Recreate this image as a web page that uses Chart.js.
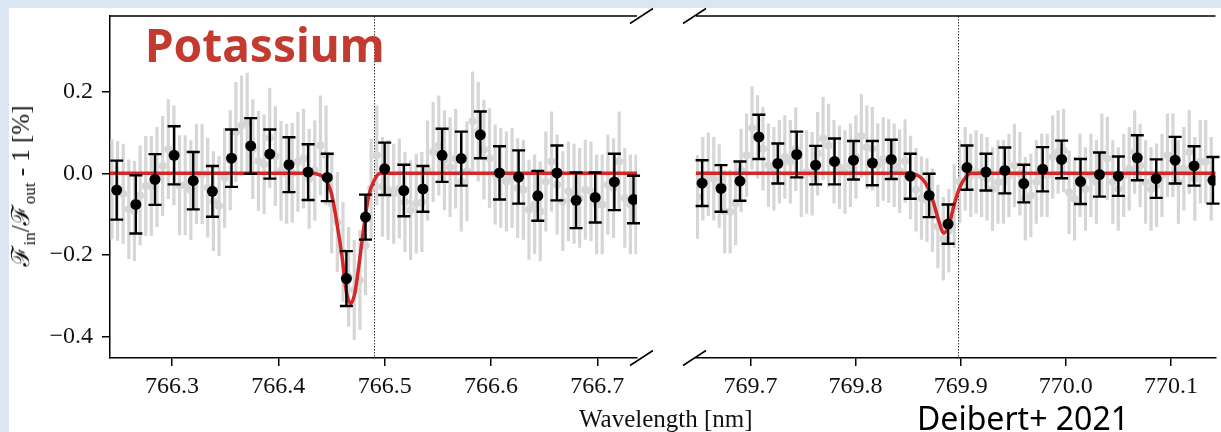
<!DOCTYPE html>
<html lang="en">
<head>
  <meta charset="UTF-8">
  <title>Potassium transmission spectrum</title>
  <script src="https://cdn.jsdelivr.net/npm/chart.js"></script>
  <style>
    body {
      margin: 0;
      width: 1221px;
      height: 432px;
      overflow: hidden;
      background: #dce6f2;
      position: relative;
    }
    #panel {
      position: absolute;
      left: 9px; top: 8px; right: 0; bottom: 0;
      background: #fff;
    }
    canvas { position: absolute; top: 0; }
    #left { left: 0; }
    #right { left: 668px; }
    .txt { position: absolute; white-space: nowrap; }
    #potassium {
      left: 145px; top: 21px;
      font: bold 46px/46px "Noto Sans", sans-serif;
      color: #c33b30;
    }
    #deibert {
      left: 917px; top: 402px;
      font: 32px/32px "Noto Sans", sans-serif;
      color: #000;
    }
    #xlabel {
      left: 579px; top: 406px;
      font: 25px/25px "Liberation Serif", serif;
      color: #111;
    }
    #ylabel {
      left: 25px; top: 186px;
      transform: translate(-50%, -50%) rotate(-90deg);
      font: 25px/25px "Liberation Serif", "DejaVu Serif", serif;
      color: #111;
    }
    #ylabel sub { font-size: 17px; }
  </style>
</head>
<body>
  <div id="panel"></div>
  <canvas id="left" width="668" height="432"></canvas>
  <canvas id="right" width="553" height="432"></canvas>
  <div class="txt" id="ylabel">ℱ<sub>in</sub>/ℱ<sub>out</sub> - 1 [%]</div>
  <div class="txt" id="xlabel">Wavelength [nm]</div>
  <div class="txt" id="potassium">Potassium</div>
  <div class="txt" id="deibert">Deibert+ 2021</div>

  <script>
    // axis ticks
    const yTicks = [-0.4, -0.2, 0, 0.2];
    const yTickLabels = ["−0.4", "−0.2", "0.0", "0.2"];
    const xLeftTicks = [766.3, 766.4, 766.5, 766.6, 766.7];
    const xLeftTickLabels = ["766.3", "766.4", "766.5", "766.6", "766.7"];
    const xRightTicks = [769.7, 769.8, 769.9, 770.0, 770.1];
    const xRightTickLabels = ["769.7", "769.8", "769.9", "770.0", "770.1"];

    // line centres (dotted)
    const lineLeft = 766.490;
    const lineRight = 769.897;

    // binned points, left window (D2)
    const binLeftX = [766.248, 766.266, 766.284, 766.302, 766.320, 766.338, 766.356, 766.374, 766.392, 766.410,
      766.428, 766.446, 766.464, 766.482, 766.500, 766.518, 766.536, 766.554, 766.572, 766.590,
      766.608, 766.626, 766.644, 766.662, 766.680, 766.698, 766.716, 766.734];
    const binLeftY = [-0.041, -0.076, -0.015, 0.044, -0.018, -0.044, 0.037, 0.067, 0.047, 0.021,
      0.003, -0.010, -0.257, -0.107, 0.011, -0.042, -0.038, 0.044, 0.036, 0.094,
      0.001, -0.009, -0.055, 0.001, -0.066, -0.059, -0.021, -0.064];
    const binLeftErr = [0.072, 0.071, 0.062, 0.071, 0.070, 0.062, 0.070, 0.068, 0.060, 0.067,
      0.068, 0.058, 0.067, 0.055, 0.064, 0.063, 0.056, 0.065, 0.066, 0.057,
      0.065, 0.065, 0.061, 0.067, 0.068, 0.061, 0.069, 0.058];

    // binned points, right window (D1)
    const binRightX = [769.654, 769.672, 769.690, 769.708, 769.726, 769.744, 769.762, 769.780, 769.798, 769.816,
      769.834, 769.852, 769.870, 769.888, 769.906, 769.924, 769.942, 769.960, 769.978, 769.996,
      770.014, 770.032, 770.050, 770.068, 770.086, 770.104, 770.122, 770.140];
    const binRightY = [-0.024, -0.037, -0.019, 0.089, 0.024, 0.046, 0.020, 0.029, 0.032, 0.025,
      0.034, -0.007, -0.054, -0.124, 0.014, 0.003, 0.007, -0.025, 0.010, 0.034,
      -0.020, -0.003, -0.007, 0.038, -0.013, 0.032, 0.018, -0.017];
    const binRightErr = [0.056, 0.057, 0.048, 0.054, 0.049, 0.056, 0.047, 0.056, 0.047, 0.054,
      0.048, 0.055, 0.053, 0.048, 0.054, 0.045, 0.056, 0.046, 0.054, 0.046,
      0.055, 0.054, 0.048, 0.055, 0.047, 0.057, 0.048, 0.057];

    // unbinned data (grey), left window
    const greyLeftX = [766.2435, 766.2488, 766.2541, 766.2594, 766.2647, 766.2700, 766.2753, 766.2806, 766.2859, 766.2912,
      766.2965, 766.3018, 766.3071, 766.3124, 766.3177, 766.3230, 766.3283, 766.3336, 766.3389, 766.3442,
      766.3495, 766.3548, 766.3601, 766.3654, 766.3707, 766.3760, 766.3813, 766.3866, 766.3919, 766.3972,
      766.4025, 766.4078, 766.4131, 766.4184, 766.4237, 766.4290, 766.4343, 766.4396, 766.4449, 766.4502,
      766.4555, 766.4608, 766.4661, 766.4714, 766.4767, 766.4820, 766.4873, 766.4926, 766.4979, 766.5032,
      766.5085, 766.5138, 766.5191, 766.5244, 766.5297, 766.5350, 766.5403, 766.5456, 766.5509, 766.5562,
      766.5615, 766.5668, 766.5721, 766.5774, 766.5827, 766.5880, 766.5933, 766.5986, 766.6039, 766.6092,
      766.6145, 766.6198, 766.6251, 766.6304, 766.6357, 766.6410, 766.6463, 766.6516, 766.6569, 766.6622,
      766.6675, 766.6728, 766.6781, 766.6834, 766.6887, 766.6940, 766.6993, 766.7046, 766.7099, 766.7152,
      766.7205, 766.7258, 766.7311, 766.7364];
    const greyLeftY = [-0.039, -0.043, -0.050, -0.088, -0.092, -0.054, -0.031, -0.031, -0.009, 0.018,
      0.059, 0.044, -0.029, -0.029, -0.041, -0.002, -0.002, -0.035, -0.068, -0.080,
      -0.011, 0.032, 0.101, 0.117, 0.124, 0.059, 0.030, 0.022, 0.087, 0.042,
      0.006, -0.001, 0.001, 0.028, 0.036, -0.013, 0.007, 0.068, 0.044, -0.074,
      -0.119, -0.192, -0.253, -0.285, -0.261, -0.176, -0.037, 0.044, -0.033, -0.040,
      -0.050, -0.037, -0.070, -0.090, -0.074, -0.070, 0.007, 0.052, 0.068, 0.032,
      0.015, 0.036, -0.020, 0.005, 0.127, 0.102, 0.058, 0.037, -0.003, -0.011,
      -0.020, -0.011, -0.036, -0.040, -0.089, -0.076, -0.093, -0.020, 0.029, -0.028,
      -0.068, -0.044, -0.050, -0.060, -0.040, -0.044, -0.076, -0.076, -0.028, -0.036,
      0.029, -0.060, -0.076, -0.076];
    const greyLeftErr = 0.122;

    // unbinned data (grey), right window
    const greyRightX = [769.6495, 769.6547, 769.6599, 769.6651, 769.6703, 769.6755, 769.6807, 769.6859, 769.6911, 769.6963,
      769.7015, 769.7067, 769.7119, 769.7171, 769.7223, 769.7275, 769.7327, 769.7379, 769.7431, 769.7483,
      769.7535, 769.7587, 769.7639, 769.7691, 769.7743, 769.7795, 769.7847, 769.7899, 769.7951, 769.8003,
      769.8055, 769.8107, 769.8159, 769.8211, 769.8263, 769.8315, 769.8367, 769.8419, 769.8471, 769.8523,
      769.8575, 769.8627, 769.8679, 769.8731, 769.8783, 769.8835, 769.8887, 769.8939, 769.8991, 769.9043,
      769.9095, 769.9147, 769.9199, 769.9251, 769.9303, 769.9355, 769.9407, 769.9459, 769.9511, 769.9563,
      769.9615, 769.9667, 769.9719, 769.9771, 769.9823, 769.9875, 769.9927, 769.9979, 770.0031, 770.0083,
      770.0135, 770.0187, 770.0239, 770.0291, 770.0343, 770.0395, 770.0447, 770.0499, 770.0551, 770.0603,
      770.0655, 770.0707, 770.0759, 770.0811, 770.0863, 770.0915, 770.0967, 770.1019, 770.1071, 770.1123,
      770.1175, 770.1227, 770.1279, 770.1331, 770.1383];
    const greyRightY = [-0.058, -0.013, -0.002, -0.013, -0.031, -0.094, -0.094, -0.074, 0.007, 0.044,
      0.111, 0.089, 0.060, 0.020, 0.011, 0.028, 0.040, 0.028, 0.059, -0.005,
      0.003, -0.001, 0.048, 0.085, 0.068, 0.028, 0.015, 0.003, 0.020, 0.040,
      0.091, 0.064, 0.060, 0.020, 0.035, 0.030, 0.020, 0.005, 0.030, -0.010,
      -0.040, -0.060, -0.065, -0.090, -0.130, -0.160, -0.140, -0.080, -0.020, 0.011,
      -0.005, 0.003, -0.005, -0.013, -0.038, -0.021, -0.021, -0.005, 0.019, -0.001,
      -0.062, -0.054, -0.021, -0.005, -0.005, 0.040, 0.052, 0.056, -0.046, -0.062,
      -0.005, -0.038, -0.005, -0.021, 0.044, 0.036, -0.021, -0.038, -0.005, 0.011,
      0.052, 0.019, -0.021, -0.038, -0.029, -0.005, 0.044, 0.044, -0.021, 0.011,
      0.052, -0.013, 0.028, 0.028, -0.013];
    const greyRightErr = 0.102;

    // best-fit model (red)
    const modelLeftX = [766.240, 766.430, 766.438, 766.444, 766.450, 766.455, 766.460, 766.464, 766.468,
      766.472, 766.476, 766.480, 766.485, 766.490, 766.496, 766.740];
    const modelLeftY = [0, 0, -0.003, -0.013, -0.050, -0.120, -0.205, -0.290, -0.318,
      -0.292, -0.220, -0.140, -0.055, -0.018, 0, 0];
    const modelRightX = [769.645, 769.850, 769.858, 769.864, 769.869, 769.874, 769.879, 769.884,
      769.889, 769.894, 769.899, 769.904, 769.910, 770.150];
    const modelRightY = [0, 0, -0.004, -0.015, -0.035, -0.070, -0.115, -0.146,
      -0.125, -0.075, -0.035, -0.012, 0, 0];

    const RED = "#d62728";
    const GREY = "#d6d6d6";
    const TICK_FONT = { family: "Liberation Serif", size: 24 };

    function pairs(xs, ys) {
      return xs.map((x, i) => ({ x: x, y: ys[i] }));
    }

    // grey error bars, dotted line centre, black error bars, top spine and break marks
    const errorBars = {
      id: "errorBars",
      beforeDatasetsDraw(chart, args, opts) {
        const { ctx, chartArea: a, scales: { x, y } } = chart;
        ctx.save();
        ctx.beginPath();
        ctx.rect(a.left, a.top, a.right - a.left, a.bottom - a.top);
        ctx.clip();
        chart.data.datasets.forEach(ds => {
          if (ds.kind !== "grey") return;
          ctx.strokeStyle = GREY;
          ctx.lineWidth = 3.2;
          ctx.beginPath();
          ds.data.forEach(p => {
            const px = x.getPixelForValue(p.x);
            ctx.moveTo(px, y.getPixelForValue(p.y + ds.err));
            ctx.lineTo(px, y.getPixelForValue(p.y - ds.err));
          });
          ctx.stroke();
        });
        const lx = Math.round(x.getPixelForValue(opts.lineAt)) + 0.5;
        ctx.strokeStyle = "#333";
        ctx.lineWidth = 1;
        ctx.setLineDash([1.5, 1.5]);
        ctx.beginPath();
        ctx.moveTo(lx, a.top);
        ctx.lineTo(lx, a.bottom);
        ctx.stroke();
        ctx.restore();
      },
      afterDatasetDraw(chart, args) {
        if (chart.data.datasets[args.index].kind !== "model") return;
        const { ctx, scales: { x, y } } = chart;
        const ds = chart.data.datasets.find(d => d.kind === "binned");
        ctx.save();
        ctx.strokeStyle = "#000";
        ctx.lineWidth = 2.4;
        ctx.beginPath();
        ds.data.forEach((p, i) => {
          const px = x.getPixelForValue(p.x);
          const top = y.getPixelForValue(p.y + ds.errs[i]);
          const bot = y.getPixelForValue(p.y - ds.errs[i]);
          ctx.moveTo(px, top); ctx.lineTo(px, bot);
          ctx.moveTo(px - 6.5, top); ctx.lineTo(px + 6.5, top);
          ctx.moveTo(px - 6.5, bot); ctx.lineTo(px + 6.5, bot);
        });
        ctx.stroke();
        ctx.restore();
      },
      afterDraw(chart, args, opts) {
        const { ctx, chartArea: a } = chart;
        ctx.save();
        ctx.strokeStyle = "#000";
        ctx.lineWidth = 1.5;
        ctx.beginPath();
        ctx.moveTo(a.left, a.top);
        ctx.lineTo(a.right, a.top);
        const cx = opts.breakSide === "right" ? a.right + 4.5 : a.left - 1.5;
        [a.top, a.bottom].forEach(cy => {
          ctx.moveTo(cx - 11.5, cy + 7.5);
          ctx.lineTo(cx + 11.5, cy - 7.5);
        });
        ctx.stroke();
        ctx.restore();
      }
    };

    function buildChart(id, p) {
      return new Chart(document.getElementById(id), {
        type: "scatter",
        data: {
          datasets: [
            {
              kind: "grey", order: 3, err: p.greyErr,
              data: pairs(p.greyX, p.greyY),
              pointRadius: 4, pointBackgroundColor: GREY, pointBorderWidth: 0
            },
            {
              kind: "model", type: "line", order: 2,
              data: pairs(p.modelX, p.modelY),
              borderColor: RED, borderWidth: 3.5, pointRadius: 0,
              cubicInterpolationMode: "monotone", fill: false
            },
            {
              kind: "binned", order: 1, errs: p.binErr,
              data: pairs(p.binX, p.binY),
              pointRadius: 5.5, pointBackgroundColor: "#000", pointBorderWidth: 0
            }
          ]
        },
        options: {
          responsive: false,
          animation: false,
          events: [],
          layout: { padding: p.padding },
          plugins: {
            legend: { display: false },
            tooltip: { enabled: false },
            errorBars: { lineAt: p.lineAt, breakSide: p.breakSide }
          },
          scales: {
            x: {
              type: "linear",
              min: p.xMin, max: p.xMax,
              afterBuildTicks: s => { s.ticks = p.xTicks.map(v => ({ value: v })); },
              afterFit: s => { s.height = 74; s.paddingLeft = 0; s.paddingRight = 0; },
              ticks: {
                color: "#111", font: TICK_FONT, padding: 6, maxRotation: 0,
                callback: (v, i) => p.xTickLabels[i]
              },
              grid: { drawOnChartArea: false, drawTicks: true, tickLength: 8, color: "#000", lineWidth: 1.5 },
              border: { display: true, color: "#000", width: 1.5 }
            },
            y: {
              display: p.showY,
              min: -0.4512, max: 0.3844,
              afterBuildTicks: s => { s.ticks = yTicks.map(v => ({ value: v })); },
              afterFit: s => {
                s.width = p.showY ? 110 : 0;
                s.paddingTop = 0;
                s.paddingBottom = 0;
              },
              ticks: {
                color: "#111", font: TICK_FONT, padding: 9,
                callback: (v, i) => yTickLabels[i]
              },
              grid: { drawOnChartArea: false, drawTicks: true, tickLength: 8, color: "#000", lineWidth: 1.5 },
              border: { display: true, color: "#000", width: 1.5 }
            }
          }
        },
        plugins: [errorBars]
      });
    }

    buildChart("left", {
      greyX: greyLeftX, greyY: greyLeftY, greyErr: greyLeftErr,
      binX: binLeftX, binY: binLeftY, binErr: binLeftErr,
      modelX: modelLeftX, modelY: modelLeftY,
      xMin: 766.2417, xMax: 766.7373,
      xTicks: xLeftTicks, xTickLabels: xLeftTickLabels,
      lineAt: lineLeft, breakSide: "right", showY: true,
      padding: { left: 0, top: 16, right: 31, bottom: 0 }
    });

    buildChart("right", {
      greyX: greyRightX, greyY: greyRightY, greyErr: greyRightErr,
      binX: binRightX, binY: binRightY, binErr: binRightErr,
      modelX: modelRightX, modelY: modelRightY,
      xMin: 769.6482, xMax: 770.1424,
      xTicks: xRightTicks, xTickLabels: xRightTickLabels,
      lineAt: lineRight, breakSide: "left", showY: false,
      padding: { left: 28, top: 16, right: 0, bottom: 0 }
    });
  </script>
</body>
</html>
